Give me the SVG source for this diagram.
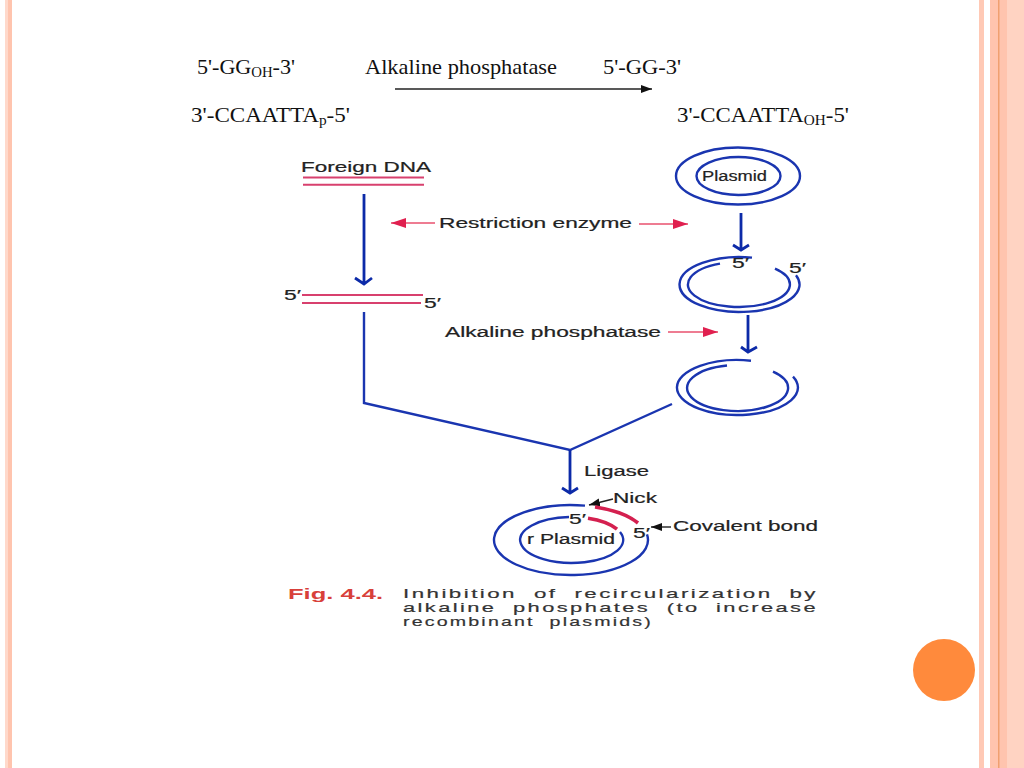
<svg xmlns="http://www.w3.org/2000/svg" width="1024" height="768" viewBox="0 0 1024 768">
<style>
.s{font-family:"Liberation Serif","Times New Roman",serif;font-size:21px;fill:#111}
.u{font-size:14px}
.l{font-family:"Liberation Sans",Arial,sans-serif;font-size:14px;fill:#222;stroke:#222;stroke-width:.2}
.c{font-family:"Liberation Sans",Arial,sans-serif;font-size:13.5px;letter-spacing:1.5px;word-spacing:5px;fill:#333;stroke:#333;stroke-width:.2}
.b{fill:none;stroke:#1a35b0;stroke-width:2.4}
.d{fill:none;stroke:#0c2aa8;stroke-width:2.8}
.p{fill:none;stroke:#d8406e;stroke-width:2}
.r{fill:none;stroke:#d4204f;stroke-width:3.6}
.a{fill:none;stroke:#e8506e;stroke-width:1.5}
.k{fill:none;stroke:#222;stroke-width:1.4}
</style>
<defs>
<marker id="ph" markerWidth="16" markerHeight="12" refX="15" refY="6" orient="auto" markerUnits="userSpaceOnUse"><path d="M0 1L15 6L0 11Z" fill="#e0204f"/></marker>
<marker id="kh" markerWidth="12" markerHeight="10" refX="11" refY="5" orient="auto" markerUnits="userSpaceOnUse"><path d="M0 1L11 5L0 9Z" fill="#111"/></marker>
</defs>
<rect width="1024" height="768" fill="#fff"/>
<g id="frame">
<rect x="5" width="3" height="768" fill="#ffd9cb"/>
<rect x="8" width="4" height="768" fill="#ffc4ae"/>
<rect x="979" width="5" height="768" fill="#ffc9b5"/>
<rect x="990" width="17" height="768" fill="#ffc4ae"/>
<rect x="998" width="1.5" height="768" fill="#f0a070"/>
<rect x="1007" width="17" height="768" fill="#ffd3c2"/>
</g>
<circle id="dot" cx="944" cy="670" r="31" fill="#ff8a3c"/>
<g id="equation">
<text class="s" x="197" y="74" textLength="98" lengthAdjust="spacingAndGlyphs">5'-GG<tspan class="u" dy="3">OH</tspan><tspan dy="-3">-3'</tspan></text>
<text class="s" x="365" y="74" textLength="192" lengthAdjust="spacingAndGlyphs">Alkaline phosphatase</text>
<text class="s" x="603" y="74" textLength="78" lengthAdjust="spacingAndGlyphs">5'-GG-3'</text>
<text class="s" x="191" y="122" textLength="159" lengthAdjust="spacingAndGlyphs">3'-CCAATTA<tspan class="u" dy="3">p</tspan><tspan dy="-3">-5'</tspan></text>
<text class="s" x="677" y="122" textLength="172" lengthAdjust="spacingAndGlyphs">3'-CCAATTA<tspan class="u" dy="3">OH</tspan><tspan dy="-3">-5'</tspan></text>
</g>
<g id="connectors">
<path class="k" d="M395 89H652" marker-end="url(#kh)"/>
<path class="d" d="M364 194V284M355 278L364 284L372 278"/>
<path class="b" d="M364 312V403L570 450L672 404"/>
<path class="d" d="M570 450V493M562 488L570 493L578 488"/>
<path class="d" d="M741 213V250M733 245L741 250L749 245"/>
<path class="d" d="M748 315V352M741 347L748 352L757 347"/>
<path class="a" d="M435 223H391" marker-end="url(#ph)"/>
<path class="a" d="M639 224H688" marker-end="url(#ph)"/>
<path class="a" d="M668 332H718" marker-end="url(#ph)"/>
<path class="k" d="M613 499L589 505" marker-end="url(#kh)"/>
<path class="k" d="M671 527H651" marker-end="url(#kh)"/>
</g>
<g id="foreign-dna">
<text class="l" x="301" y="172" textLength="130" lengthAdjust="spacingAndGlyphs">Foreign DNA</text>
<path class="p" d="M303 177.5H424M303 184.7H424"/>
</g>
<g id="cut-dna">
<path class="p" d="M302 295H423M302 303H421"/>
<text class="l" x="284" y="300" textLength="17" lengthAdjust="spacingAndGlyphs">5′</text>
<text class="l" x="424" y="308" textLength="17" lengthAdjust="spacingAndGlyphs">5′</text>
</g>
<g id="labels">
<text class="l" x="439" y="228" textLength="193" lengthAdjust="spacingAndGlyphs">Restriction enzyme</text>
<text class="l" x="445" y="337" textLength="216" lengthAdjust="spacingAndGlyphs">Alkaline phosphatase</text>
<text class="l" x="584" y="476" textLength="65" lengthAdjust="spacingAndGlyphs">Ligase</text>
<text class="l" x="613" y="503" textLength="44" lengthAdjust="spacingAndGlyphs">Nick</text>
<text class="l" x="673" y="531" textLength="145" lengthAdjust="spacingAndGlyphs">Covalent bond</text>
</g>
<g id="plasmid">
<ellipse class="b" cx="738" cy="176" rx="62" ry="28.5"/>
<ellipse class="b" cx="738.5" cy="176" rx="42" ry="19"/>
<text class="l" x="702" y="181" textLength="65" lengthAdjust="spacingAndGlyphs">Plasmid</text>
</g>
<g id="cut-plasmid">
<path class="b" d="M752 257.6A60 27.5 0 1 0 796 275.2"/>
<path class="b" d="M720 263.6A51 22.5 0 1 0 775 268.6"/>
<text class="l" x="732" y="268" textLength="17" lengthAdjust="spacingAndGlyphs">5′</text>
<text class="l" x="789" y="273" textLength="17" lengthAdjust="spacingAndGlyphs">5′</text>
</g>
<g id="dephosphorylated-plasmid">
<path class="b" d="M751 360.7A60.5 27.5 0 1 0 793 376.6"/>
<path class="b" d="M727 365.5A50.5 23 0 1 0 773 371.6"/>
</g>
<g id="r-plasmid">
<path class="b" d="M585 505.6A77 35 0 1 0 647 534.4"/>
<path class="r" d="M595 507A77 35 0 0 1 638 523"/>
<path class="b" d="M569 517A51.5 23 0 1 0 620 532"/>
<path class="r" d="M588 518.2A51.5 23 0 0 1 617 529.2"/>
<text class="l" x="569" y="524" textLength="17" lengthAdjust="spacingAndGlyphs">5′</text>
<text class="l" x="633" y="538" textLength="17" lengthAdjust="spacingAndGlyphs">5′</text>
<text class="l" x="527" y="544" textLength="88" lengthAdjust="spacingAndGlyphs">r Plasmid</text>
</g>
<g id="caption">
<text x="288" y="599" font-family="Liberation Sans,Arial,sans-serif" font-weight="bold" font-size="14" fill="#d8403a" textLength="95" lengthAdjust="spacingAndGlyphs">Fig. 4.4.</text>
<text class="c" x="403" y="598" textLength="415" lengthAdjust="spacingAndGlyphs">Inhibition of recircularization by</text>
<text class="c" x="403" y="612" textLength="415" lengthAdjust="spacingAndGlyphs">alkaline phosphates (to increase</text>
<text class="c" x="403" y="626" textLength="250" lengthAdjust="spacingAndGlyphs">recombinant plasmids)</text>
</g>
</svg>
